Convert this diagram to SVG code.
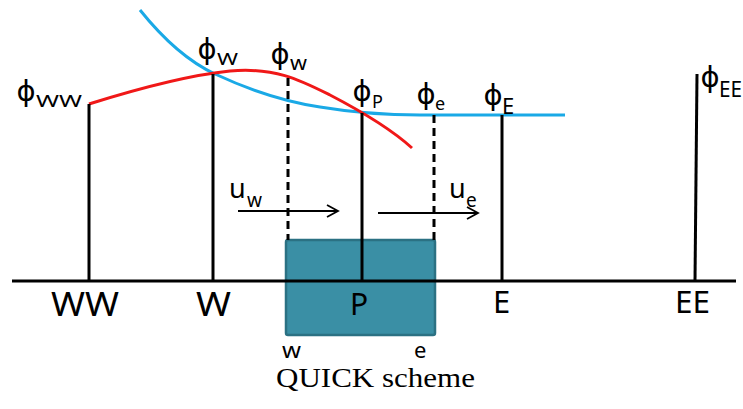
<svg xmlns="http://www.w3.org/2000/svg" width="743" height="409" viewBox="0 0 743 409">
<defs>
<style>
.ln{stroke:#000;stroke-width:3;fill:none}
.dash{stroke:#000;stroke-width:3;fill:none;stroke-dasharray:8 5}
.phi{font-family:"DejaVu Sans",sans-serif;font-size:29px;fill:#000;text-anchor:middle}
.lab{font-family:"Noto Sans","Open Sans",sans-serif;fill:#000}
.ar{stroke:#000;stroke-width:1.8;fill:none}
</style>
<marker id="arr" markerWidth="14" markerHeight="14" refX="12" refY="7" orient="auto" markerUnits="userSpaceOnUse">
<path d="M1,1 L12,7 L1,13" fill="none" stroke="#000" stroke-width="1.8"/>
</marker>
</defs>
<rect width="743" height="409" fill="#fff"/>
<g id="cell">
<rect x="286" y="240" width="149" height="95" rx="2" fill="#3a8fa5" stroke="#2b7183" stroke-width="2.5"/>
</g>
<g id="curves">
<path d="M140,10 C160,35 185,60 215,74 C245,88 280,101 320,107 C350,112 380,115 420,115 L565,115" stroke="#1aa9e6" stroke-width="3" fill="none"/>
<path d="M89,104 C140,88 190,75 230,71 C275,67 300,80 330,95 C355,108 390,128 412,148" stroke="#f01818" stroke-width="3" fill="none"/>
</g>
<g id="connectors">
<line class="ln" x1="12" y1="281" x2="736" y2="281"/>
<line class="ln" x1="89" y1="104" x2="89" y2="281"/>
<line class="ln" x1="213" y1="74" x2="213" y2="281"/>
<line class="dash" x1="288" y1="78" x2="288" y2="240"/>
<line class="ln" x1="362" y1="113" x2="362" y2="281"/>
<line class="dash" x1="434" y1="115" x2="434" y2="240"/>
<line class="ln" x1="502" y1="115" x2="502" y2="281"/>
<line class="ln" x1="697" y1="74" x2="695" y2="281"/>
<line class="ar" x1="238" y1="211" x2="338" y2="211" marker-end="url(#arr)"/>
<line class="ar" x1="378" y1="213" x2="478" y2="213" marker-end="url(#arr)"/>
</g>
<g id="phi-labels">
<text class="phi" x="26" y="101">ϕ</text><text class="lab" x="36" y="107" font-size="17" textLength="46" lengthAdjust="spacingAndGlyphs">WW</text>
<text class="phi" x="207" y="59">ϕ</text><text class="lab" x="217" y="65" font-size="17" textLength="21" lengthAdjust="spacingAndGlyphs">W</text>
<text class="phi" x="280" y="64">ϕ</text><text class="lab" x="290" y="70" font-size="19" textLength="17" lengthAdjust="spacingAndGlyphs">w</text>
<text class="phi" x="362" y="101">ϕ</text><text class="lab" x="372" y="108" font-size="18">P</text>
<text class="phi" x="426" y="104">ϕ</text><text class="lab" x="435" y="110" font-size="18">e</text>
<text class="phi" x="493" y="105">ϕ</text><text class="lab" x="502" y="114" font-size="22">E</text>
<text class="phi" x="710" y="87">ϕ</text><text class="lab" x="719" y="97" font-size="22" textLength="23" lengthAdjust="spacingAndGlyphs">EE</text>
</g>
<g id="velocity-labels">
<text class="lab" x="229" y="198" font-size="27">u</text><text class="lab" x="247" y="207" font-size="19" textLength="15" lengthAdjust="spacingAndGlyphs">w</text>
<text class="lab" x="449" y="198" font-size="27">u</text><text class="lab" x="466" y="207" font-size="19">e</text>
</g>
<g id="node-labels">
<text class="lab" x="51" y="316" font-size="33" textLength="68" lengthAdjust="spacingAndGlyphs">WW</text>
<text class="lab" x="196" y="316" font-size="33" textLength="35" lengthAdjust="spacingAndGlyphs">W</text>
<text class="lab" x="350" y="315" font-size="30">P</text>
<text class="lab" x="493" y="313" font-size="31">E</text>
<text class="lab" x="675" y="313" font-size="31" textLength="35" lengthAdjust="spacingAndGlyphs">EE</text>
<text class="lab" x="282" y="358" font-size="21" textLength="19" lengthAdjust="spacingAndGlyphs">w</text>
<text class="lab" x="414" y="358" font-size="22">e</text>
</g>
<g id="caption">
<text x="276" y="387" font-family="'Liberation Serif',serif" font-size="28" textLength="199" lengthAdjust="spacingAndGlyphs" fill="#000">QUICK scheme</text>
</g>
</svg>
